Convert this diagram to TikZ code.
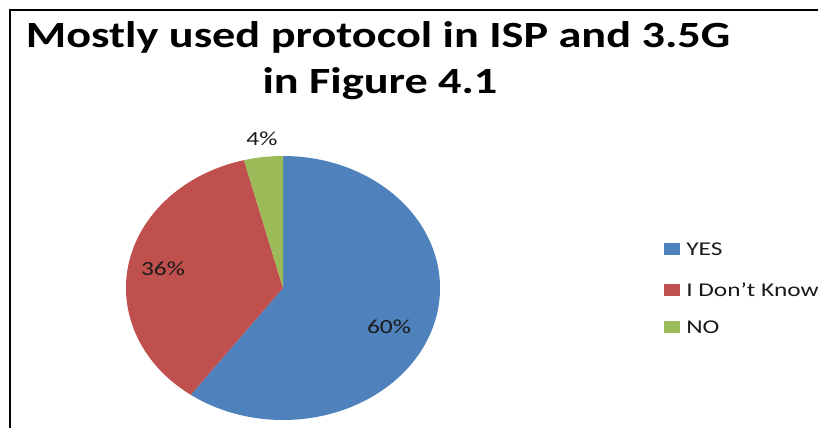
\documentclass[tikz,border=0pt]{standalone}
\usepackage{fontspec}
\setmainfont{Carlito}
\definecolor{cblue}{HTML}{4F81BD}
\definecolor{cred}{HTML}{C0504D}
\definecolor{cgreen}{HTML}{9BBB59}
\definecolor{ctext}{HTML}{1A1A1A}
\tikzset{
  ttl/.style={font=\fontsize{37}{46}\selectfont\bfseries, inner sep=0pt, anchor=base, xscale=1.25},
  lbl/.style={font=\fontsize{20}{24}\selectfont, text=ctext, inner sep=0pt, xscale=1.27},
  legsq/.style={minimum width=16pt, minimum height=12pt, inner sep=0pt},
  legtxt/.style={font=\fontsize{19.5}{23}\selectfont, text=ctext, inner sep=0pt, anchor=west, xscale=1.3},
}
\begin{document}
\begin{tikzpicture}[x=1pt,y=1pt]
\useasboundingbox (0,0) rectangle (818,428);
% frame
\draw[line width=2pt, black] (9.5,0) -- (9.5,418) -- (830,418);
% title
\node[ttl] (title1) at (378,380) {Mostly used protocol in ISP and 3.5G};
\node[ttl] (title2) at (380,334) {in Figure 4.1};
% pie
\coordinate (c) at (283,140);
\fill[cblue] (c) -- ++(90:132) arc[start angle=90, end angle=-126, x radius=157, y radius=132] -- cycle;
\fill[cred] (c) -- ++({157*cos(-126)},{132*sin(-126)}) arc[start angle=-126, end angle=-255.6, x radius=157, y radius=132] -- cycle;
\fill[cgreen] (c) -- ++({157*cos(104.4)},{132*sin(104.4)}) arc[start angle=104.4, end angle=90, x radius=157, y radius=132] -- cycle;
% labels
\node[lbl] (p4) at (262,289) {4\%};
\node[lbl] (p36) at (163,159) {36\%};
\node[lbl] (p60) at (389,101) {60\%};
% legend
\node[legsq, fill=cblue] (s1) at (672,179) {};
\node[legtxt] (t1) at (686,179) {YES};
\node[legsq, fill=cred] (s2) at (672,138) {};
\node[legtxt] (t2) at (686,138) {I Don’t Know};
\node[legsq, fill=cgreen] (s3) at (672,101) {};
\node[legtxt] (t3) at (686,101) {NO};
\end{tikzpicture}
\end{document}
